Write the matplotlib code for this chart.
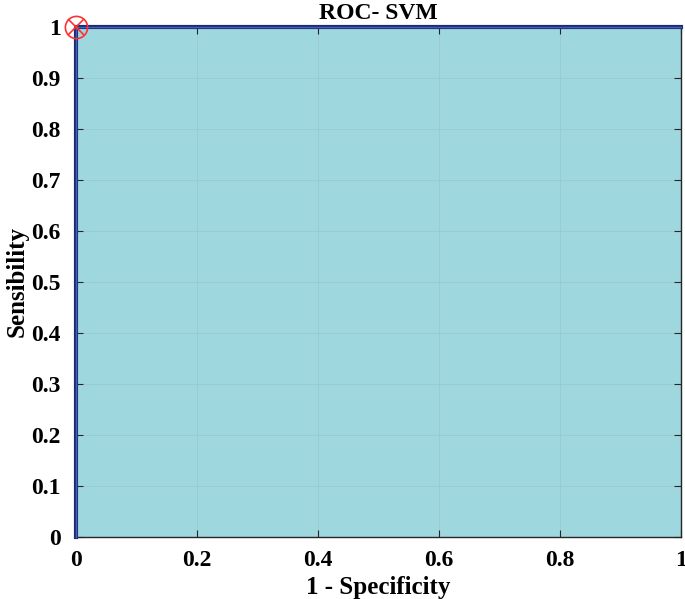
import matplotlib
matplotlib.use("Agg")
import matplotlib.pyplot as plt

fpr = [0, 0, 1]
tpr = [0, 1, 1]
opt_point = (0, 1)
xticks = [0, 0.2, 0.4, 0.6, 0.8, 1]
yticks = [0, 0.1, 0.2, 0.3, 0.4, 0.5, 0.6, 0.7, 0.8, 0.9, 1]

plt.rcParams['font.family'] = ['Liberation Serif', 'DejaVu Serif']
plt.rcParams['font.weight'] = 'bold'

fig = plt.figure(figsize=(6.85, 5.99), dpi=100)
ax = fig.add_axes([0.111, 0.1035, 0.883, 0.8515])
ax.fill_between(fpr, tpr, 0, color='#9fd7df', zorder=1)
ax.plot(fpr, tpr, color='#1f2a6e', lw=3, zorder=3, clip_on=False)
ax.plot(fpr, tpr, color='#4060c0', lw=1, zorder=4, clip_on=False)
ax.plot([opt_point[0]], [opt_point[1]], 'o', ms=16, mfc='none', mec='#ff3030', mew=1.2, zorder=5, clip_on=False)
ax.plot([opt_point[0]], [opt_point[1]], 'x', ms=11, mec='#ff3030', mew=1.2, zorder=5, clip_on=False)
ax.set_xlim(0, 1)
ax.set_ylim(0, 1)
ax.set_xticks(xticks)
ax.set_yticks(yticks)
ax.set_xticklabels(['0', '0.2', '0.4', '0.6', '0.8', '1'])
ax.set_yticklabels(['0', '0.1', '0.2', '0.3', '0.4', '0.5', '0.6', '0.7', '0.8', '0.9', '1'])
ax.tick_params(axis='both', direction='in', top=True, right=True, labelsize=17, length=5, color='#262626')
ax.tick_params(axis='y', pad=11)
ax.tick_params(axis='x', pad=9)
ax.grid(True, color='#8fbcbc', lw=0.6, alpha=0.45, zorder=2)
ax.set_axisbelow(False)
for s in ax.spines.values():
    s.set_color('#262626')
    s.set_linewidth(1)
ax.set_xlabel('1 - Specificity', fontsize=18, fontweight='bold', labelpad=4)
ax.set_ylabel('Sensibility', fontsize=18, fontweight='bold', labelpad=2)
ax.set_title('ROC- SVM', fontsize=17, fontweight='bold', pad=6)
fig.savefig('out.png', dpi=100)
